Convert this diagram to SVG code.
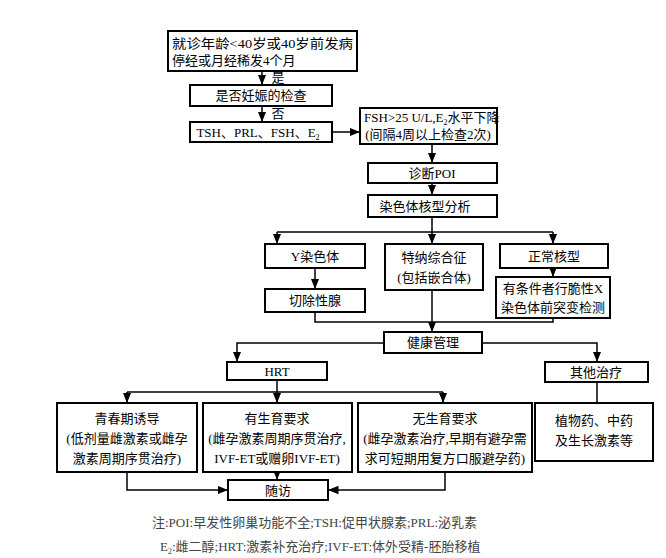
<svg xmlns="http://www.w3.org/2000/svg" width="666" height="558" viewBox="0 0 666 558">
<defs><marker id="a" viewBox="0 0 10 10" refX="10" refY="5" markerWidth="7" markerHeight="7" orient="auto"><path d="M0,1 L10,5 L0,9 z" fill="#000"/></marker></defs>
<style>
rect{fill:#fff;stroke:#000;stroke-width:2}
text{font-family:"Liberation Serif","Noto Sans CJK SC",serif;font-size:13px;fill:#000;text-anchor:middle}
.c path{fill:none;stroke:#000;stroke-width:1.5}
.ar{marker-end:url(#a)}
.s{text-anchor:start}
.n{font-size:13px;fill:#444;text-anchor:start}
</style>
<rect x="0" y="0" width="666" height="558" style="stroke:none"/>
<g class="c">
<path class="ar" d="M262,71V85"/><path class="ar" d="M262,106V122"/>
<path class="ar" d="M332,132H360"/><path class="ar" d="M432,144V163"/>
<path class="ar" d="M432,183V195"/>
<path d="M432,217V232M277,232H553"/>
<path class="ar" d="M277,232V244"/><path class="ar" d="M432,232V244"/><path class="ar" d="M553,232V244"/>
<path class="ar" d="M315,268V289"/><path class="ar" d="M553,268V277"/>
<path d="M315,312V322H553V318"/><path class="ar" d="M432,290V332"/>
<path class="ar" d="M384,343H237V362"/><path class="ar" d="M482,343H597V362"/>
<path d="M277,380V392M127,392H443"/>
<path class="ar" d="M127,392V403"/><path class="ar" d="M277,392V403"/><path class="ar" d="M443,392V403"/>
<path d="M597,382V403"/>
<path class="ar" d="M127,472V490H228"/><path class="ar" d="M277,472V480"/><path class="ar" d="M445,472V490H328"/>
</g>
<g id="n1"><rect x="168" y="31" width="189" height="40"/><text class="s" x="172" y="48" textLength="181" lengthAdjust="spacingAndGlyphs">就诊年龄&lt;40岁或40岁前发病</text><text class="s" x="172" y="65">停经或月经稀发4个月</text></g>
<text x="278" y="82">是</text><text x="278" y="118">否</text>
<g id="n2"><rect x="190" y="85" width="142" height="21"/><text x="261" y="100">是否妊娠的检查</text></g>
<g id="n3"><rect x="190" y="122" width="142" height="20"/><text x="258" y="137">TSH、PRL、FSH、E<tspan font-size="8" dy="3">2</tspan></text></g>
<g id="n4"><rect x="360" y="108" width="137" height="36"/><text class="s" x="364" y="122">FSH&gt;25 U/L,E<tspan font-size="8" dy="3">2</tspan><tspan dy="-3">水平下降</tspan></text><text x="428" y="139">(间隔4周以上检查2次)</text></g>
<g id="n5"><rect x="368" y="163" width="129" height="20"/><text x="432" y="178">诊断POI</text></g>
<g id="n6"><rect x="368" y="195" width="129" height="22"/><text x="425" y="211">染色体核型分析</text></g>
<g id="n7"><rect x="265" y="244" width="100" height="24"/><text x="315" y="261">Y染色体</text></g>
<g id="n8"><rect x="385" y="244" width="98" height="46"/><text x="434" y="262">特纳综合征</text><text x="434" y="282">(包括嵌合体)</text></g>
<g id="n9"><rect x="500" y="244" width="108" height="24"/><text x="554" y="261">正常核型</text></g>
<g id="n10"><rect x="265" y="289" width="100" height="23"/><text x="315" y="305">切除性腺</text></g>
<g id="n11"><rect x="496" y="277" width="114" height="41"/><text x="553" y="293">有条件者行脆性X</text><text x="553" y="312">染色体前突变检测</text></g>
<g id="n12"><rect x="384" y="332" width="98" height="21"/><text x="433" y="347">健康管理</text></g>
<g id="n13"><rect x="227" y="362" width="100" height="18"/><text x="277" y="376">HRT</text></g>
<g id="n14"><rect x="545" y="362" width="103" height="20"/><text x="596" y="377">其他治疗</text></g>
<g id="n15"><rect x="57" y="403" width="140" height="69"/><text x="127" y="423">青春期诱导</text><text x="127" y="443">(低剂量雌激素或雌孕</text><text x="127" y="463">激素周期序贯治疗)</text></g>
<g id="n16"><rect x="203" y="403" width="149" height="69"/><text x="277" y="423">有生育要求</text><text x="277" y="443">(雌孕激素周期序贯治疗,</text><text x="277" y="463">IVF-ET或赠卵IVF-ET)</text></g>
<g id="n17"><rect x="358" y="403" width="174" height="69"/><text x="445" y="423">无生育要求</text><text x="445" y="443">(雌孕激素治疗,早期有避孕需</text><text x="445" y="463">求可短期用复方口服避孕药)</text></g>
<g id="n18"><rect x="535" y="403" width="118" height="58"/><text x="594" y="425">植物药、中药</text><text x="594" y="445">及生长激素等</text></g>
<g id="n19"><rect x="228" y="480" width="100" height="20"/><text x="278" y="495">随访</text></g>
<text class="n" x="152" y="527">注:POI:早发性卵巢功能不全;TSH:促甲状腺素;PRL:泌乳素</text>
<text class="n" x="160" y="551">E<tspan font-size="8" dy="3">2</tspan><tspan dy="-3">:雌二醇;HRT:激素补充治疗;IVF-ET:体外受精-胚胎移植</tspan></text>
</svg>
